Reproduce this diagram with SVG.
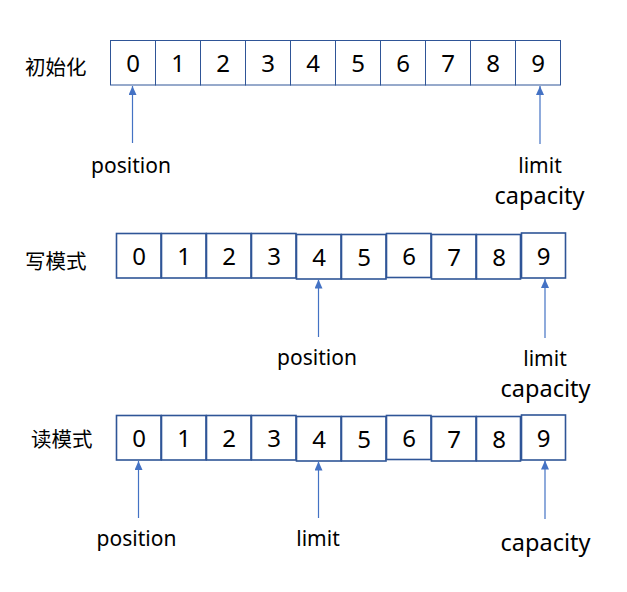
<svg xmlns="http://www.w3.org/2000/svg" width="627" height="592" viewBox="0 0 627 592">
<defs>
<style>
.c1{fill:#fff;stroke:#2F5597;stroke-width:1}
.c2{fill:#fff;stroke:#2F5597;stroke-width:1.6}
.d{font-family:"Noto Sans","Liberation Sans",sans-serif;font-size:24px;fill:#000;text-anchor:middle}
.lab{font-family:"Noto Sans","Liberation Sans",sans-serif;font-size:21px;fill:#000;text-anchor:middle}
.cap{font-family:"Noto Sans","Liberation Sans",sans-serif;font-size:23.5px;fill:#000;text-anchor:middle}
.zh{font-family:"Noto Sans CJK SC","Noto Sans",sans-serif;font-size:20.5px;fill:#000}
.ar{stroke:#4472C4;stroke-width:1.2;fill:none}
</style>
<marker id="ah" viewBox="0 0 9 8" refX="9" refY="4" markerWidth="9" markerHeight="8" markerUnits="userSpaceOnUse" orient="auto">
<path d="M0,0 L9,4 L0,8 z" fill="#4472C4"/>
</marker>
</defs>

<g id="title-init"><text class="zh" x="25" y="74.5">初始化</text></g>
<g id="title-write"><text class="zh" x="25" y="268.5">写模式</text></g>
<g id="title-read"><text class="zh" x="31" y="446.5">读模式</text></g>

<g id="row-init">
<g id="init-0"><rect class="c1" x="110.5" y="40.5" width="45" height="44.5"/><text class="d" x="133" y="72">0</text></g>
<g id="init-1"><rect class="c1" x="155.5" y="40.5" width="45" height="44.5"/><text class="d" x="178" y="72">1</text></g>
<g id="init-2"><rect class="c1" x="200.5" y="40.5" width="45" height="44.5"/><text class="d" x="223" y="72">2</text></g>
<g id="init-3"><rect class="c1" x="245.5" y="40.5" width="45" height="44.5"/><text class="d" x="268" y="72">3</text></g>
<g id="init-4"><rect class="c1" x="290.5" y="40.5" width="45" height="44.5"/><text class="d" x="313" y="72">4</text></g>
<g id="init-5"><rect class="c1" x="335.5" y="40.5" width="45" height="44.5"/><text class="d" x="358" y="72">5</text></g>
<g id="init-6"><rect class="c1" x="380.5" y="40.5" width="45" height="44.5"/><text class="d" x="403" y="72">6</text></g>
<g id="init-7"><rect class="c1" x="425.5" y="40.5" width="45" height="44.5"/><text class="d" x="448" y="72">7</text></g>
<g id="init-8"><rect class="c1" x="470.5" y="40.5" width="45" height="44.5"/><text class="d" x="493" y="72">8</text></g>
<g id="init-9"><rect class="c1" x="515.5" y="40.5" width="45" height="44.5"/><text class="d" x="538" y="72">9</text></g>
</g>

<g id="row-write">
<g id="write-0"><rect class="c2" x="116.5" y="233.5" width="44.5" height="44.5"/><text class="d" x="139" y="265">0</text></g>
<g id="write-1"><rect class="c2" x="161.5" y="233.5" width="44.5" height="44.5"/><text class="d" x="184" y="265">1</text></g>
<g id="write-2"><rect class="c2" x="206.5" y="233.5" width="44.5" height="44.5"/><text class="d" x="229" y="265">2</text></g>
<g id="write-3"><rect class="c2" x="251.5" y="233.5" width="44.5" height="44.5"/><text class="d" x="274" y="265">3</text></g>
<g id="write-4"><rect class="c2" x="296.5" y="234.5" width="44.5" height="44.5"/><text class="d" x="319" y="266">4</text></g>
<g id="write-5"><rect class="c2" x="341.5" y="234.5" width="44.5" height="44.5"/><text class="d" x="364" y="266">5</text></g>
<g id="write-6"><rect class="c2" x="386.5" y="233.5" width="44.5" height="44"/><text class="d" x="409" y="265">6</text></g>
<g id="write-7"><rect class="c2" x="431.5" y="234.5" width="44.5" height="44.5"/><text class="d" x="454" y="266">7</text></g>
<g id="write-8"><rect class="c2" x="476.5" y="234.5" width="44" height="44.5"/><text class="d" x="499" y="266">8</text></g>
<g id="write-9"><rect class="c2" x="521.5" y="233" width="44" height="45"/><text class="d" x="543.5" y="265">9</text></g>
</g>

<g id="row-read">
<g id="read-0"><rect class="c2" x="116.5" y="415.5" width="44.5" height="44.5"/><text class="d" x="139" y="447">0</text></g>
<g id="read-1"><rect class="c2" x="161.5" y="415.5" width="44.5" height="44.5"/><text class="d" x="184" y="447">1</text></g>
<g id="read-2"><rect class="c2" x="206.5" y="415.5" width="44.5" height="44.5"/><text class="d" x="229" y="447">2</text></g>
<g id="read-3"><rect class="c2" x="251.5" y="415.5" width="44.5" height="44.5"/><text class="d" x="274" y="447">3</text></g>
<g id="read-4"><rect class="c2" x="296.5" y="416.5" width="44.5" height="44.5"/><text class="d" x="319" y="448">4</text></g>
<g id="read-5"><rect class="c2" x="341.5" y="416.5" width="44.5" height="44.5"/><text class="d" x="364" y="448">5</text></g>
<g id="read-6"><rect class="c2" x="386.5" y="415.5" width="44.5" height="44"/><text class="d" x="409" y="447">6</text></g>
<g id="read-7"><rect class="c2" x="431.5" y="416.5" width="44.5" height="44.5"/><text class="d" x="454" y="448">7</text></g>
<g id="read-8"><rect class="c2" x="476.5" y="416.5" width="44" height="44.5"/><text class="d" x="499" y="448">8</text></g>
<g id="read-9"><rect class="c2" x="521.5" y="415" width="44" height="45"/><text class="d" x="543.5" y="447">9</text></g>
</g>

<g id="connectors">
<line class="ar" x1="132.5" y1="143" x2="132.5" y2="86" marker-end="url(#ah)"/>
<line class="ar" x1="540" y1="144" x2="540" y2="86" marker-end="url(#ah)"/>
<line class="ar" x1="318.5" y1="337" x2="318.5" y2="279.5" marker-end="url(#ah)"/>
<line class="ar" x1="545" y1="338" x2="545" y2="279" marker-end="url(#ah)"/>
<line class="ar" x1="138.5" y1="518" x2="138.5" y2="461" marker-end="url(#ah)"/>
<line class="ar" x1="318.5" y1="518" x2="318.5" y2="461.5" marker-end="url(#ah)"/>
<line class="ar" x1="545" y1="519" x2="545" y2="460.5" marker-end="url(#ah)"/>
</g>

<g id="label-init-position"><text class="lab" x="131" y="172.5">position</text></g>
<g id="label-init-limit"><text class="lab" x="540" y="173">limit</text></g>
<g id="label-init-capacity"><text class="cap" x="539.5" y="204">capacity</text></g>
<g id="label-write-position"><text class="lab" x="317" y="365">position</text></g>
<g id="label-write-limit"><text class="lab" x="545" y="366">limit</text></g>
<g id="label-write-capacity"><text class="cap" x="545.5" y="397">capacity</text></g>
<g id="label-read-position"><text class="lab" x="136.5" y="545.5">position</text></g>
<g id="label-read-limit"><text class="lab" x="318" y="546">limit</text></g>
<g id="label-read-capacity"><text class="cap" x="545.5" y="551">capacity</text></g>
</svg>
